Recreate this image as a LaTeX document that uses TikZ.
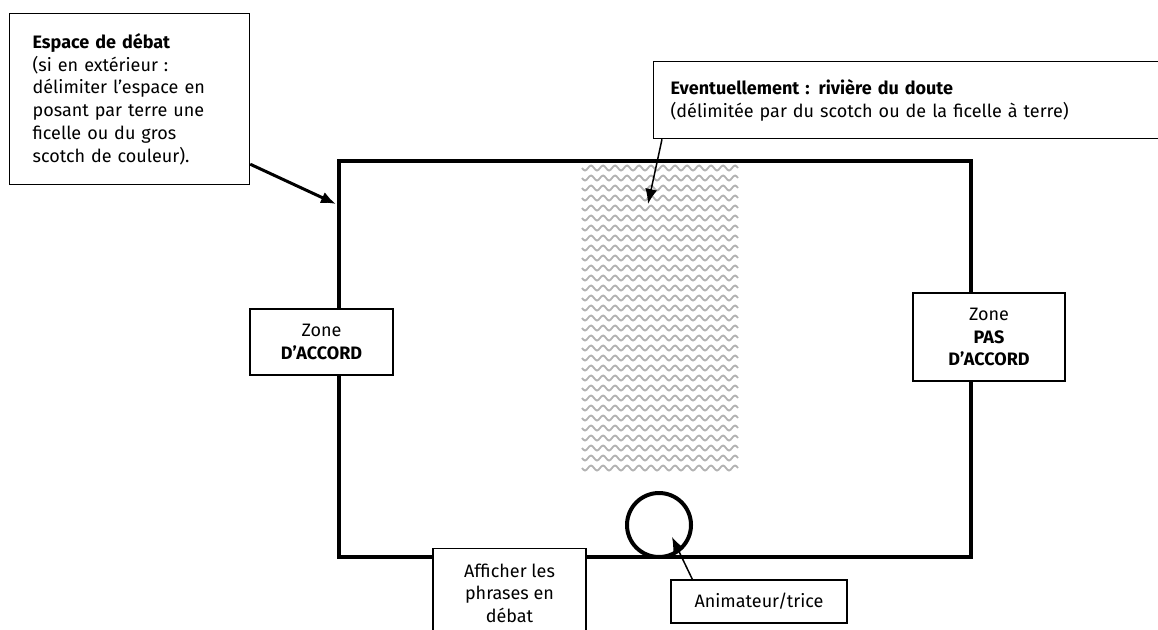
\documentclass[tikz,border=0pt]{standalone}
\usepackage{fontspec}
\setmainfont{Fira Sans}
\usetikzlibrary{arrows.meta}
\begin{document}
\begin{tikzpicture}[x=1pt,y=-1pt,
  box/.style={draw,line width=1.2pt,fill=white,font=\fontsize{18}{22.7}\selectfont},
  pointer/.style={-{Latex[length=15pt,width=12pt]}},
  wave/.style={gray!60,line width=1.8pt}]
\useasboundingbox (0,0) rectangle (1158,629);
\clip (0,0) rectangle (1158,629);
% riviere du doute
\foreach \y in {168,178,...,468}
\draw[wave] (582,\y) \foreach \i in {1,...,13} {sin ++(3,2.5) cos ++(3,-2.5) sin ++(3,-2.5) cos ++(3,2.5)};
\node[draw,line width=4pt,outer sep=0pt,inner sep=0pt,anchor=north west,
  minimum width=632pt,minimum height=396pt] (terrain) at (339,161) {};
\coordinate (riviere-tip) at (648,204);
\coordinate (anim-tip) at (672,537);
\node[box,anchor=north west,text width=194pt,minimum height=171pt,inner xsep=23pt,align=left] (espace) at (9,13)
{\textbf{Espace de débat}\\(si en extérieur :\\délimiter l’espace en\\posant par terre une\\ficelle ou du gros\\scotch de couleur).};
\node[box,anchor=north west,text width=520pt,minimum height=77pt,inner xsep=17pt,align=left] (riviere) at (653,61)
{\textbf{Eventuellement : rivière du doute}\\(délimitée par du scotch ou de la ficelle à terre)};
\node[box,minimum width=143pt,minimum height=66pt,align=center] (accord) at (321.5,342) {Zone\\\textbf{D’ACCORD}};
\node[box,minimum width=152pt,minimum height=88pt,align=center] (pas-accord) at (989,337) {Zone\\\textbf{PAS}\\\textbf{D’ACCORD}};
\node[box,anchor=north,minimum width=153pt,inner ysep=15pt,align=center] (phrases) at (509.5,548) {Afficher les\\phrases en\\débat};
\node[box,minimum width=176pt,minimum height=43pt] (anim-box) at (759,601.5) {Animateur/trice};
\node[draw,circle,line width=4pt,inner sep=0pt,minimum size=64pt] (animateur) at (659,525) {};
\draw[pointer,line width=3pt] ([yshift=21pt]espace.south east) -- ([xshift=-3pt,yshift=-43pt]terrain.north west);
\draw[pointer,line width=1.5pt] ([xshift=9pt]riviere.south west) -- (riviere-tip);
\draw[pointer,line width=1.5pt] ([xshift=22pt]anim-box.north west) -- (anim-tip);
\end{tikzpicture}
\end{document}
